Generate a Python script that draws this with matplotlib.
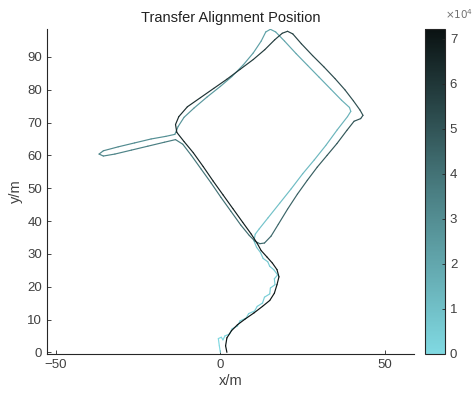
import numpy as np
import matplotlib
matplotlib.use("Agg")
import matplotlib.pyplot as plt
from matplotlib.collections import LineCollection
from matplotlib.colors import LinearSegmentedColormap, Normalize

plt.rcParams['font.family'] = ['Liberation Sans', 'DejaVu Sans']

# trajectory waypoints (x/m, y/m) and time (x1e4)
path_x = [0.0, -0.3, -0.6, 0.3, 0.8, 1.4, 2.8, 3.6, 5.2, 6.0, 7.8, 8.6, 10.4, 11.2, 12.8, 13.4, 15.0, 15.2, 16.6, 16.4,
          17.4, 16.2, 15.0, 14.4, 13.0, 12.2, 11.0, 10.2,
          10.6, 11.8, 14.5, 18.0, 21.5, 25.0, 28.5, 32.0, 35.5, 38.6, 39.6, 39.2,
          36.8, 33.5, 30.0, 26.5, 23.0, 19.5, 16.8, 15.2, 13.8,
          12.4, 10.0, 7.0, 3.5, 0.0, -4.0, -8.0, -11.0, -12.8, -13.8,
          -16.5, -21.0, -26.0, -31.0, -35.5, -36.8, -35.5, -32.0, -27.0, -22.0, -17.0, -13.6,
          -11.4, -8.8, -5.8, -2.8, 0.2, 3.2, 6.2, 8.8, 10.6, 12.0, 13.4,
          15.4, 17.6, 20.4, 23.4, 26.4, 29.4, 32.4, 35.4, 38.4, 40.6, 42.6, 43.3,
          42.4, 40.4, 37.8, 34.8, 31.4, 28.0, 24.6, 22.0, 20.4, 18.8,
          16.5, 13.5, 10.0, 6.0, 2.0, -2.0, -6.0, -10.0, -12.6, -13.6, -13.2,
          -11.0, -8.2, -5.2, -2.2, 0.8, 3.8, 6.8, 9.4, 11.2,
          12.4, 14.2, 15.8, 17.2, 17.8, 17.2, 16.4, 15.0, 12.8, 10.2, 7.6, 5.2, 3.4, 2.0, 1.6, 2.0]
path_y = [0.0, 2.0, 4.2, 4.6, 3.8, 5.0, 5.6, 7.2, 8.0, 9.6, 10.4, 11.8, 12.6, 14.0, 15.0, 16.8, 17.8, 19.6, 20.6, 22.4,
          23.6, 25.2, 26.2, 27.6, 28.6, 30.4, 32.0, 34.0,
          36.0, 37.6, 41.0, 45.4, 49.8, 54.4, 58.6, 63.0, 67.8, 71.8, 73.4, 74.6,
          76.8, 80.2, 83.8, 87.4, 91.0, 94.8, 97.6, 98.4, 97.6,
          94.8, 91.2, 87.6, 84.0, 81.0, 77.8, 74.4, 71.6, 68.8, 66.4,
          65.8, 65.0, 63.8, 62.6, 61.4, 60.4, 59.8, 60.4, 61.6, 62.8, 64.0, 64.8,
          63.4, 60.0, 55.8, 51.6, 47.2, 43.0, 38.8, 35.6, 33.8, 33.1, 33.3,
          35.4, 39.0, 43.6, 48.2, 52.4, 56.4, 60.0, 63.6, 67.6, 70.4, 71.2, 72.2,
          73.8, 76.6, 80.0, 83.4, 87.0, 90.4, 94.0, 97.0, 97.8, 97.2,
          95.2, 92.2, 89.2, 86.2, 83.2, 80.4, 77.6, 74.8, 71.8, 69.4, 67.0,
          64.2, 60.8, 56.6, 52.2, 48.0, 43.8, 39.6, 36.0, 33.2,
          31.0, 29.0, 27.2, 25.2, 23.0, 20.6, 18.0, 15.8, 14.0, 12.0, 10.2, 8.4, 6.6, 4.4, 2.0, 0.0]
path_t = [0.00, 0.03, 0.06, 0.09, 0.11, 0.13, 0.16, 0.19, 0.22, 0.25, 0.28, 0.31, 0.34, 0.37, 0.40, 0.43, 0.46, 0.49,
          0.52, 0.55, 0.58, 0.61, 0.64, 0.67, 0.70, 0.73, 0.76, 0.79,
          0.82, 0.85, 0.92, 1.01, 1.10, 1.19, 1.28, 1.37, 1.46, 1.54, 1.57, 1.60,
          1.66, 1.74, 1.82, 1.90, 1.98, 2.06, 2.12, 2.16, 2.19,
          2.23, 2.29, 2.36, 2.43, 2.50, 2.58, 2.66, 2.73, 2.79, 2.83,
          2.88, 2.96, 3.05, 3.14, 3.22, 3.26, 3.30, 3.37, 3.46, 3.55, 3.64, 3.70,
          3.74, 3.80, 3.87, 3.94, 4.01, 4.08, 4.15, 4.21, 4.25, 4.28, 4.31,
          4.35, 4.41, 4.48, 4.56, 4.64, 4.72, 4.80, 4.88, 4.96, 5.02, 5.06, 5.08,
          5.11, 5.16, 5.23, 5.31, 5.39, 5.47, 5.55, 5.62, 5.65, 5.68,
          5.73, 5.80, 5.88, 5.96, 6.04, 6.12, 6.20, 6.28, 6.35, 6.40, 6.44,
          6.48, 6.53, 6.58, 6.63, 6.68, 6.73, 6.78, 6.82, 6.85,
          6.88, 6.91, 6.94, 6.97, 7.00, 7.03, 7.06, 7.09, 7.11, 7.14, 7.16, 7.18, 7.19, 7.20, 7.21, 7.22]

x_ticks = [-50, 0, 50]
y_ticks = [0, 10, 20, 30, 40, 50, 60, 70, 80, 90]
cbar_ticks = [0, 1, 2, 3, 4, 5, 6, 7]
t_max = 7.22

txt = '#404040'
cmap = LinearSegmentedColormap.from_list('cyanblack', ['#80d9e2', '#4a7e82', '#0a1212'])

fig = plt.figure(figsize=(4.74, 3.96), dpi=100)
ax = fig.add_axes([0.0992, 0.1061, 0.7743, 0.8207])
cax = fig.add_axes([0.8966, 0.1061, 0.0422, 0.8207])

px = np.array(path_x)
py = np.array(path_y)
pt = np.array(path_t) * 1e4
pts = np.column_stack([px, py]).reshape(-1, 1, 2)
segs = np.concatenate([pts[:-1], pts[1:]], axis=1)
lc = LineCollection(segs, cmap=cmap, norm=Normalize(0, t_max * 1e4), linewidths=0.85,
                    capstyle='round', joinstyle='round')
lc.set_array((pt[:-1] + pt[1:]) / 2)
ax.add_collection(lc)

ax.set_xlim(-52.6, 58.8)
ax.set_ylim(-0.5, 98.5)
ax.set_xticks(x_ticks)
ax.set_yticks(y_ticks)
for s in ['top', 'right']:
    ax.spines[s].set_visible(False)
for s in ['left', 'bottom']:
    ax.spines[s].set_color('#262626')
    ax.spines[s].set_linewidth(0.8)
ax.tick_params(direction='in', length=3, width=0.6, colors='#262626', labelcolor=txt, labelsize=9.5)
ax.set_title('Transfer Alignment Position', fontsize=10.5, color='#222222', pad=5)
ax.set_xlabel('x/m', fontsize=10.5, color=txt, labelpad=2)
ax.set_ylabel('y/m', fontsize=10.5, color=txt, labelpad=3)

cb = fig.colorbar(lc, cax=cax)
cb.set_ticks([v * 1e4 for v in cbar_ticks])
cb.set_ticklabels([str(v) for v in cbar_ticks])
cb.outline.set_edgecolor('#262626')
cb.outline.set_linewidth(0.8)
cax.tick_params(direction='in', length=2.5, width=0.6, colors='#262626', labelcolor=txt, labelsize=9.5)
fig.text(0.938, 0.948, r'$\times10^4$', fontsize=7.5, color='#707070', ha='left', va='bottom')

fig.savefig('out.png', dpi=100, facecolor='white')
